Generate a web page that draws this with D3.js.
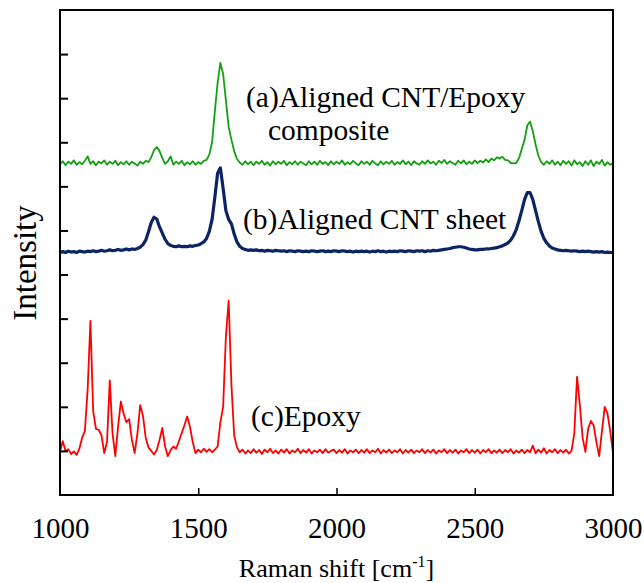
<!DOCTYPE html>
<html><head><meta charset="utf-8">
<script src="https://cdn.jsdelivr.net/npm/d3@7"></script>
<style>body{margin:0;background:#fff}svg{display:block}</style>
</head><body><svg id="c" width="644" height="583"></svg>
<script>
// Raman shift grid (cm^-1)
const shift = [
1000,1010,1020,1030,1040,1050,1060,1070,1080,1090,
1100,1110,1120,1130,1140,1150,1160,1170,1180,1190,
1200,1210,1220,1230,1240,1250,1260,1270,1280,1290,
1300,1310,1320,1330,1340,1350,1360,1370,1380,1390,
1400,1410,1420,1430,1440,1450,1460,1470,1480,1490,
1500,1510,1520,1530,1540,1550,1560,1570,1580,1590,
1600,1610,1620,1630,1640,1650,1660,1670,1680,1690,
1700,1710,1720,1730,1740,1750,1760,1770,1780,1790,
1800,1810,1820,1830,1840,1850,1860,1870,1880,1890,
1900,1910,1920,1930,1940,1950,1960,1970,1980,1990,
2000,2010,2020,2030,2040,2050,2060,2070,2080,2090,
2100,2110,2120,2130,2140,2150,2160,2170,2180,2190,
2200,2210,2220,2230,2240,2250,2260,2270,2280,2290,
2300,2310,2320,2330,2340,2350,2360,2370,2380,2390,
2400,2410,2420,2430,2440,2450,2460,2470,2480,2490,
2500,2510,2520,2530,2540,2550,2560,2570,2580,2590,
2600,2610,2620,2630,2640,2650,2660,2670,2680,2690,
2700,2710,2720,2730,2740,2750,2760,2770,2780,2790,
2800,2810,2820,2830,2840,2850,2860,2870,2880,2890,
2900,2910,2920,2930,2940,2950,2960,2970,2980,2990,
3000];

// (a) Aligned CNT/Epoxy composite (offset intensity)
const composite = [
7.50,7.57,7.48,7.56,7.51,7.59,7.49,7.55,7.50,7.58,
7.68,7.51,7.57,7.48,7.56,7.52,7.59,7.49,7.56,7.51,
7.58,7.48,7.55,7.50,7.57,7.49,7.56,7.52,7.47,7.56,
7.51,7.58,7.55,7.66,7.82,7.89,7.80,7.64,7.51,7.57,
7.68,7.49,7.56,7.51,7.58,7.48,7.55,7.50,7.57,7.49,
7.55,7.51,7.58,7.60,7.72,8.00,8.70,9.35,9.80,9.55,
8.95,8.35,8.06,7.80,7.62,7.54,7.49,7.57,7.50,7.56,
7.48,7.56,7.51,7.58,7.49,7.55,7.47,7.57,7.50,7.56,
7.51,7.58,7.48,7.55,7.50,7.57,7.49,7.56,7.52,7.48,
7.57,7.50,7.56,7.49,7.58,7.51,7.55,7.48,7.57,7.50,
7.56,7.51,7.59,7.49,7.55,7.50,7.58,7.52,7.48,7.57,
7.51,7.56,7.49,7.58,7.52,7.48,7.57,7.50,7.56,7.51,
7.58,7.49,7.55,7.51,7.59,7.50,7.56,7.48,7.57,7.52,
7.49,7.57,7.51,7.59,7.52,7.56,7.49,7.58,7.53,7.60,
7.51,7.57,7.53,7.49,7.58,7.52,7.59,7.50,7.56,7.51,
7.59,7.53,7.58,7.54,7.61,7.55,7.63,7.59,7.66,7.63,
7.67,7.60,7.59,7.53,7.52,7.53,7.64,7.85,8.05,8.38,
8.47,8.25,7.95,7.70,7.55,7.49,7.57,7.51,7.59,7.49,
7.56,7.48,7.58,7.51,7.57,7.47,7.59,7.50,7.55,7.46,
7.57,7.49,7.59,7.46,7.56,7.51,7.60,7.47,7.55,7.49,
7.52];

// (b) Aligned CNT sheet
const sheet = [
5.50,5.52,5.50,5.53,5.51,5.52,5.50,5.53,5.52,5.51,
5.53,5.52,5.54,5.52,5.53,5.55,5.53,5.54,5.56,5.54,
5.55,5.57,5.55,5.56,5.58,5.56,5.58,5.57,5.59,5.62,
5.68,5.78,5.97,6.18,6.30,6.26,6.08,5.94,5.80,5.70,
5.66,5.64,5.63,5.65,5.63,5.64,5.63,5.65,5.64,5.66,
5.67,5.70,5.74,5.82,5.98,6.25,6.75,7.30,7.42,6.95,
6.45,6.25,6.15,5.92,5.74,5.64,5.59,5.57,5.55,5.56,
5.55,5.56,5.54,5.55,5.53,5.55,5.54,5.53,5.55,5.54,
5.53,5.54,5.52,5.54,5.53,5.52,5.54,5.53,5.52,5.53,
5.52,5.54,5.53,5.52,5.53,5.54,5.52,5.53,5.52,5.54,
5.53,5.52,5.54,5.53,5.52,5.53,5.51,5.53,5.52,5.53,
5.52,5.53,5.51,5.53,5.52,5.54,5.52,5.53,5.51,5.53,
5.52,5.53,5.52,5.54,5.53,5.52,5.54,5.53,5.52,5.54,
5.53,5.54,5.52,5.54,5.53,5.55,5.54,5.55,5.56,5.57,
5.58,5.59,5.61,5.62,5.63,5.63,5.62,5.60,5.58,5.57,
5.56,5.56,5.57,5.57,5.58,5.58,5.59,5.60,5.61,5.63,
5.65,5.68,5.72,5.78,5.88,6.02,6.22,6.45,6.70,6.86,
6.86,6.70,6.45,6.20,5.98,5.82,5.72,5.65,5.60,5.58,
5.56,5.55,5.54,5.55,5.54,5.53,5.54,5.53,5.52,5.53,
5.52,5.53,5.52,5.51,5.52,5.51,5.52,5.50,5.51,5.50,
5.50];

// (c) Epoxy
const epoxy = [
0.98,1.22,1.00,1.04,0.93,0.99,0.91,1.05,1.30,1.45,
2.40,3.95,1.90,1.50,1.48,1.35,0.95,1.20,2.60,1.40,
0.88,1.55,2.12,1.85,1.65,1.72,1.25,0.95,1.40,2.04,
1.80,1.30,1.08,1.00,0.92,1.02,1.25,1.52,1.10,0.88,
1.02,1.10,1.05,1.22,1.40,1.58,1.78,1.55,1.20,0.95,
1.03,0.97,1.05,0.98,1.04,0.97,1.03,1.10,1.65,2.00,
3.60,4.41,2.50,1.35,1.08,0.97,1.03,0.94,1.01,0.95,
1.04,0.96,1.02,0.93,1.03,0.97,1.05,0.95,1.01,0.94,
1.03,0.96,1.04,0.94,1.01,0.97,1.05,0.95,1.02,0.96,
1.04,0.94,1.01,0.97,1.03,0.95,1.04,0.96,1.00,1.03,
0.95,1.02,0.96,1.04,0.94,1.01,0.97,1.03,0.95,1.02,
0.96,1.04,0.95,1.01,0.97,1.05,0.94,1.02,0.96,1.03,
0.95,1.01,0.97,1.04,0.94,1.02,0.96,1.03,0.95,1.01,
0.97,1.04,0.95,1.02,0.96,1.03,0.94,1.01,0.97,1.04,
0.95,1.02,0.96,1.03,0.94,1.01,0.97,1.04,0.95,1.02,
0.96,1.03,0.94,1.02,0.97,1.04,0.95,1.01,0.96,1.03,
0.95,1.02,0.97,1.04,0.94,1.01,0.96,1.03,0.95,1.02,
0.97,1.12,0.95,1.03,0.96,1.06,0.94,1.02,0.97,1.04,
0.95,1.02,0.96,1.03,0.94,1.00,1.40,2.68,2.05,1.30,
0.98,1.50,1.68,1.58,1.20,0.88,1.45,2.00,1.85,1.45,
0.95];

const xTicks = [1000, 1500, 2000, 2500, 3000];
const yTicks = [1,2,3,4,5,6,7,8,9,10];
const seriesNames = ["(a)Aligned CNT/Epoxy", "(b)Aligned CNT sheet", "(c)Epoxy"];
const FONT = '"Liberation Serif","Times New Roman",Times,serif';

const svg = d3.select("#c");
const L = 60, R = 613, T = 10, B = 495;
const x = d3.scaleLinear().domain([1000, 3000]).range([L, R]);
const y = d3.scaleLinear().domain([0, 11]).range([B, T]);

const series = [
  {vals: composite, color: "#12a012", w: 1.8},
  {vals: sheet, color: "#0a2464", w: 3.2},
  {vals: epoxy, color: "#ff0000", w: 1.8}
];
const line = d3.line().x(d => x(d[0])).y(d => y(d[1]));
const g = svg.append("g");
series.forEach(s => {
  g.append("path").datum(shift.map((v, i) => [v, s.vals[i]]))
    .attr("d", line).attr("fill", "none")
    .attr("stroke", s.color).attr("stroke-width", s.w).attr("stroke-linejoin", "round");
});

// axes
const xAxis = d3.axisBottom(x).tickValues(xTicks).tickSize(-7).tickPadding(22).tickFormat(d3.format("d"));
const gx = svg.append("g").attr("transform", `translate(0,${B})`).call(xAxis);
gx.attr("font-family", null).attr("font-size", null);
gx.select(".domain").remove();
gx.selectAll(".tick line").attr("stroke", "#000").attr("stroke-width", 1.5)
  .attr("display", d => (d === 1000 || d === 3000) ? "none" : null);
gx.selectAll(".tick text").attr("dy", "0.71em")
  .style("font-family", FONT).style("font-size", "29px").attr("fill", "#000");

const yAxis = d3.axisLeft(y).tickValues(yTicks).tickSize(-8).tickFormat("");
const gy = svg.append("g").attr("transform", `translate(${L},0)`).call(yAxis);
gy.select(".domain").remove();
gy.selectAll(".tick line").attr("stroke", "#000").attr("stroke-width", 2);

svg.append("rect").attr("x", L).attr("y", T).attr("width", R - L).attr("height", B - T)
  .attr("fill", "none").attr("stroke", "#000").attr("stroke-width", 2);

function txt(xp, yp, size) {
  return svg.append("text").attr("x", xp).attr("y", yp)
    .style("font-family", FONT).style("font-size", size + "px").attr("fill", "#000");
}

// titles
const xt = txt((L + R) / 2, 577, 26).attr("text-anchor", "middle");
xt.append("tspan").text("Raman shift [cm");
xt.append("tspan").attr("dy", -10).style("font-size", "16px").text("-1");
xt.append("tspan").attr("dy", 10).text("]");

svg.append("text").attr("transform", "translate(36,263) rotate(-90)").attr("text-anchor", "middle")
  .style("font-family", FONT).style("font-size", "33px").attr("fill", "#000").text("Intensity");

// annotations
txt(246, 107, 29.5).text(seriesNames[0]);
txt(268, 140, 29.5).text("composite");
txt(243, 229, 29.5).text(seriesNames[1]);
txt(251, 426, 29.5).text(seriesNames[2]);
</script></body></html>
